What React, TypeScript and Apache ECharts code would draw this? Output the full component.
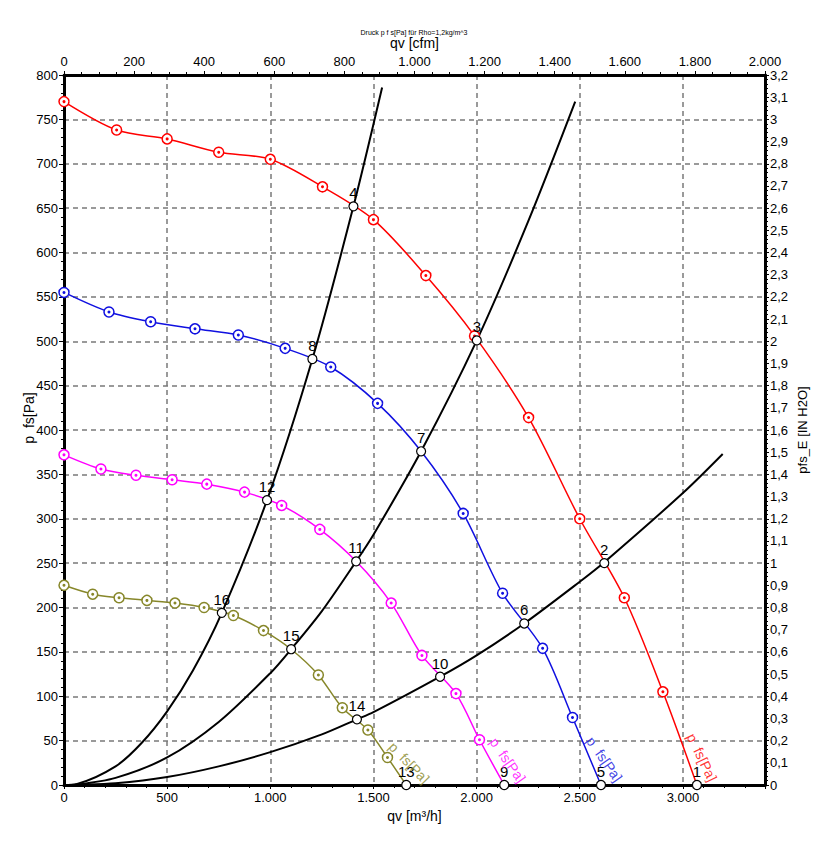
import React, { useEffect, useRef } from 'react';
import * as echarts from 'echarts';

const FONT = '"Liberation Sans", Arial, sans-serif';

// axis extents
const Q_MAX_M3H = 3398; // = 2000 cfm
const CFM_MAX = 2000;
const P_MAX = 800;
const INH2O_MAX = 3.2;

// fan curves (marker points) q [m³/h], p [Pa]
const redQ = [0, 255, 500, 750, 1000, 1253, 1500, 1754, 1990, 2252, 2500, 2716, 2903];
const redP = [770, 738, 728, 713, 705, 674, 637, 574, 506, 414, 300, 211, 105];

const blueQ = [0, 218, 420, 635, 845, 1072, 1293, 1520, 1935, 2126, 2320, 2465];
const blueP = [555, 533, 522, 514, 507, 492, 471, 430, 306, 216, 154, 76];

const magentaQ = [0, 179, 349, 524, 692, 875, 1055, 1240, 1586, 1735, 1900, 2014];
const magentaP = [372, 356, 349, 344, 339, 330, 315, 288, 205, 146, 103, 51];

const oliveQ = [0, 139, 267, 402, 538, 679, 821, 967, 1233, 1349, 1473, 1568];
const oliveP = [225, 215, 211, 208, 205, 200, 191, 174, 124, 87, 62, 31];

// operating points
const opLabels = ['1', '2', '3', '4', '5', '6', '7', '8', '9', '10', '11', '12', '13', '14', '15', '16'];
const opQ = [3068, 2619, 2001, 1403, 2603, 2231, 1731, 1204, 2134, 1823, 1416, 984, 1659, 1420, 1101, 765];
const opP = [0, 250, 501, 652, 0, 182, 376, 480, 0, 122, 252, 321, 0, 74, 153, 194];

// operating points lying on each fan curve, used to continue the curve lines
const redOps = ['1'];
const blueOps = ['7', '5'];
const magentaOps = ['11', '9'];
const oliveOps = ['15', '13'];

// system curves
const sysAQ = [0, 60, 250, 375, 500, 625, 765, 984, 1204, 1403, 1542];
const sysAP = [0, 1, 21, 47, 83, 129, 194, 321, 480, 652, 786];
const sysBQ = [0, 60, 250, 500, 750, 1000, 1101, 1250, 1416, 1500, 1731, 2001, 2250, 2478];
const sysBP = [0, 0.5, 8, 31, 71, 126, 153, 196, 252, 282, 376, 501, 635, 770];
const sysCQ = [0, 60, 250, 500, 750, 1000, 1250, 1420, 1500, 1823, 2000, 2231, 2500, 2619, 3000, 3193];
const sysCP = [0, 0.2, 2, 9, 21, 37, 57, 74, 82, 122, 146, 182, 229, 251, 329, 373];

// curve name labels anchor [q, p]
const curveLabelText = 'p  fs[Pa]';
const redLabelAt = [3092, 31];
const blueLabelAt = [2619, 29];
const magentaLabelAt = [2151, 28];
const oliveLabelAt = [1673, 25];

const RED = '#ff0000';
const BLUE = '#1010e0';
const MAGENTA = '#ff00ff';
const OLIVE = '#87872a';

const pairs = (q: number[], p: number[]) => q.map((v, i) => [v, p[i]]);
const opPair = (lab: string) => {
  const i = opLabels.indexOf(lab);
  return [opQ[i], opP[i]];
};
const fanLine = (q: number[], p: number[], ops: string[]) =>
  [...pairs(q, p), ...ops.map(opPair)].sort((a, b) => a[0] - b[0]);

const thousands = (v: number) => String(Math.round(v)).replace(/\B(?=(\d{3})+(?!\d))/g, '.');
const comma = (v: number) => String(Math.round(v * 10) / 10).replace('.', ',');

export default function App() {
  const ref = useRef<HTMLDivElement>(null);
  useEffect(() => {
    const chart = echarts.init(ref.current!, null, { renderer: 'svg' });

    const axisLine = { show: true, onZero: false, lineStyle: { color: '#000', width: 3 } };
    const tick = (len: number) => ({ show: true, length: len, lineStyle: { color: '#000', width: 1 } });
    const minor = (n: number, len: number) => ({ show: true, splitNumber: n, length: len, lineStyle: { color: '#000', width: 1 } });
    const grid = { show: true, lineStyle: { color: '#7a7a7a', width: 1.5, type: [5, 4] } };
    const lbl = (extra: any) => ({ color: '#000', fontSize: 13, fontFamily: FONT, ...extra });
    const nameStyle = { color: '#000', fontSize: 14, fontFamily: FONT };

    const fanSeries = (q: number[], p: number[], ops: string[], color: string) => [
      {
        type: 'line',
        data: fanLine(q, p, ops),
        smooth: 0.3,
        showSymbol: false,
        lineStyle: { color, width: 1.5 },
        z: 2,
        silent: true,
      },
      {
        type: 'scatter',
        data: pairs(q, p),
        symbol: 'circle',
        symbolSize: 10,
        itemStyle: { color: '#ffffff', borderColor: color, borderWidth: 1.5, opacity: 1 },
        z: 3,
        silent: true,
      },
      {
        type: 'scatter',
        data: pairs(q, p),
        symbol: 'circle',
        symbolSize: 3,
        itemStyle: { color, opacity: 1 },
        z: 4,
        silent: true,
      },
    ];

    const sysSeries = (q: number[], p: number[]) => ({
      type: 'line',
      data: pairs(q, p),
      smooth: 0.3,
      showSymbol: false,
      lineStyle: { color: '#000', width: 2 },
      z: 2,
      silent: true,
    });

    const curveLabel = (at: number[], color: string, rot: number) => ({
      type: 'scatter',
      data: [at],
      symbolSize: 1,
      itemStyle: { color: 'rgba(0,0,0,0)' },
      label: {
        show: true,
        position: 'inside',
        formatter: curveLabelText,
        rotate: rot,
        color,
        fontSize: 14,
        fontFamily: FONT,
      },
      z: 6,
      silent: true,
    });

    const option: any = {
      animation: false,
      textStyle: { fontFamily: FONT },
      grid: { left: 64, right: 59, top: 75, bottom: 60, containLabel: false },
      graphic: [
        {
          type: 'text',
          x: 414,
          y: 32,
          style: {
            text: 'Druck p f s[Pa] für Rho=1,2kg/m^3',
            font: '7px ' + FONT,
            fill: '#000',
            textAlign: 'center',
            textVerticalAlign: 'middle',
          },
        },
        {
          type: 'text',
          x: 29,
          y: 418,
          rotation: Math.PI / 2,
          style: {
            text: 'p  fs[Pa]',
            font: '14px ' + FONT,
            fill: '#000',
            textAlign: 'center',
            textVerticalAlign: 'middle',
          },
        },
        {
          type: 'text',
          x: 802,
          y: 430,
          rotation: Math.PI / 2,
          style: {
            text: 'pfs_E [IN H2O]',
            font: '13px ' + FONT,
            fill: '#000',
            textAlign: 'center',
            textVerticalAlign: 'middle',
          },
        },
      ],
      xAxis: [
        {
          type: 'value',
          position: 'bottom',
          min: 0,
          max: Q_MAX_M3H,
          interval: 500,
          axisLine,
          axisTick: tick(4),
          minorTick: minor(5, 3),
          axisLabel: lbl({ margin: 6, formatter: thousands, showMaxLabel: false }),
          splitLine: grid,
          name: 'qv [m³/h]',
          nameLocation: 'middle',
          nameGap: 22,
          nameTextStyle: nameStyle,
        },
        {
          type: 'value',
          position: 'top',
          min: 0,
          max: CFM_MAX,
          interval: 200,
          axisLine,
          axisTick: tick(4),
          minorTick: minor(4, 3),
          axisLabel: lbl({ margin: 7, formatter: thousands }),
          splitLine: { show: false },
          name: 'qv [cfm]',
          nameLocation: 'middle',
          nameGap: 24,
          nameTextStyle: nameStyle,
        },
      ],
      yAxis: [
        {
          type: 'value',
          position: 'left',
          min: 0,
          max: P_MAX,
          interval: 50,
          axisLine,
          axisTick: tick(5),
          minorTick: minor(5, 3),
          axisLabel: lbl({ margin: 6 }),
          splitLine: grid,
        },
        {
          type: 'value',
          position: 'right',
          min: 0,
          max: INH2O_MAX,
          interval: 0.1,
          axisLine,
          axisTick: tick(4),
          minorTick: minor(5, 3),
          axisLabel: lbl({ margin: 5, formatter: comma }),
          splitLine: { show: false },
        },
      ],
      series: [
        sysSeries(sysAQ, sysAP),
        sysSeries(sysBQ, sysBP),
        sysSeries(sysCQ, sysCP),
        ...fanSeries(redQ, redP, redOps, RED),
        ...fanSeries(blueQ, blueP, blueOps, BLUE),
        ...fanSeries(magentaQ, magentaP, magentaOps, MAGENTA),
        ...fanSeries(oliveQ, oliveP, oliveOps, OLIVE),
        {
          type: 'scatter',
          data: opLabels.map((l, i) => ({ name: l, value: [opQ[i], opP[i]] })),
          symbol: 'circle',
          symbolSize: 9,
          itemStyle: { color: '#ffffff', borderColor: '#000', borderWidth: 1.2, opacity: 1 },
          label: {
            show: true,
            position: 'top',
            distance: 1,
            formatter: (p: any) => p.name,
            color: '#000',
            fontSize: 15,
            fontFamily: FONT,
          },
          z: 5,
          silent: true,
        },
        curveLabel(redLabelAt, RED, -64),
        curveLabel(blueLabelAt, BLUE, -55),
        curveLabel(magentaLabelAt, MAGENTA, -55),
        curveLabel(oliveLabelAt, OLIVE, -46),
      ],
    };

    chart.setOption(option);
    return () => chart.dispose();
  }, []);
  return <div ref={ref} style={{ position: 'absolute', left: 0, top: 0, width: 824, height: 845 }} />;
}
